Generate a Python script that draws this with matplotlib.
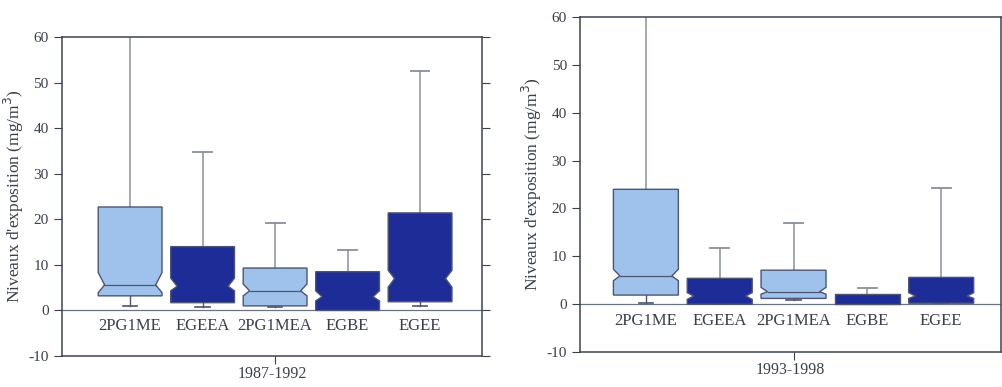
import numpy as np
import matplotlib.pyplot as plt
from matplotlib.patches import Polygon

# categories and colour group (light = propylene glycol ethers, dark = ethylene glycol ethers)
categories = ['2PG1ME', 'EGEEA', '2PG1MEA', 'EGBE', 'EGEE']
is_light = [True, False, True, False, False]

# 1987-1992 box statistics (mg/m3)
p1_low = [0.9, 0.8, 0.7, 0.0, 1.0]
p1_q1 = [3.2, 1.7, 1.0, 0.0, 1.9]
p1_notch_lo = [3.9, 4.3, 3.2, 2.1, 5.1]
p1_med = [5.6, 5.3, 4.3, 3.0, 7.0]
p1_notch_hi = [8.3, 7.1, 5.8, 4.3, 8.8]
p1_q3 = [22.7, 14.0, 9.3, 8.5, 21.4]
p1_high = [62.0, 34.8, 19.1, 13.2, 52.5]

# 1993-1998 box statistics (mg/m3), EGBE shows no notch
p2_low = [0.2, 0.0, 0.8, 0.0, 0.2]
p2_q1 = [1.9, 0.0, 1.2, 0.0, 0.2]
p2_notch_lo = [4.9, 1.0, 2.1, 1.0, 1.2]
p2_med = [5.9, 1.7, 2.6, 1.0, 1.7]
p2_notch_hi = [7.3, 2.4, 3.5, 1.0, 2.4]
p2_q3 = [24.0, 5.4, 7.1, 2.1, 5.6]
p2_high = [62.0, 11.7, 17.0, 3.3, 24.3]

LIGHT = '#9fc2ec'
DARK = '#1e2c98'
EDGE = '#4d5570'
WHISK = '#8a8f99'
TXT = '#3a3f4a'

plt.rcParams['font.family'] = ['Liberation Serif', 'DejaVu Serif']
plt.rcParams['axes.unicode_minus'] = False

fig = plt.figure(figsize=(10.03, 3.87), dpi=100)
ax1 = fig.add_axes([0.0618, 0.0801, 0.4188, 0.8243])
ax2 = fig.add_axes([0.5783, 0.0904, 0.4197, 0.8656])


def draw_panel(ax, low, q1, nlo, med, nhi, q3, high, xlim, period, right_ticks):
    w = 0.44
    for i, name in enumerate(categories):
        x = i + 1
        nw = w * 0.8
        fc = LIGHT if is_light[i] else DARK
        # whiskers
        ax.plot([x, x], [q3[i], high[i]], color=WHISK, lw=1.1, zorder=1)
        ax.plot([x - 0.13, x + 0.13], [high[i], high[i]], color=WHISK, lw=1.3, zorder=1)
        ax.plot([x, x], [low[i], q1[i]], color=EDGE, lw=1.0, zorder=1)
        ax.plot([x - 0.1, x + 0.1], [low[i], low[i]], color=EDGE, lw=1.2, zorder=1)
        if nlo[i] < nhi[i]:
            verts = [(x - w, q1[i]), (x - w, nlo[i]), (x - nw, med[i]), (x - w, nhi[i]),
                     (x - w, q3[i]), (x + w, q3[i]), (x + w, nhi[i]), (x + nw, med[i]),
                     (x + w, nlo[i]), (x + w, q1[i])]
        else:
            verts = [(x - w, q1[i]), (x - w, q3[i]), (x + w, q3[i]), (x + w, q1[i])]
        ax.add_patch(Polygon(verts, closed=True, facecolor=fc, edgecolor=EDGE,
                             lw=1.0, zorder=2))
        if is_light[i]:
            ax.plot([x - nw, x + nw], [med[i], med[i]], color=EDGE, lw=0.9, zorder=3)
        ax.text(x, -3.5, name, ha='center', va='center', fontsize=12, color=TXT)
    ax.axhline(0, color='#6b7280', lw=0.9, zorder=0)
    ax.set_xlim(*xlim)
    ax.set_ylim(-10, 60)
    ax.set_yticks(np.arange(-10, 61, 10))
    ax.set_xticks([3])
    ax.set_xticklabels([''])
    ax.set_xlabel(period, fontsize=11.5, color=TXT, labelpad=0)
    ax.set_ylabel("Niveaux d'exposition (mg/m$^3$)", fontsize=12.5, color=TXT, labelpad=2)
    ax.tick_params(axis='y', labelsize=11, colors=TXT, length=6, width=0.8,
                   right=right_ticks, direction='out')
    ax.tick_params(axis='x', length=6, width=0.8, colors=TXT, pad=1)
    for s in ax.spines.values():
        s.set_color('#3d4250')
        s.set_linewidth(1.1)


draw_panel(ax1, p1_low, p1_q1, p1_notch_lo, p1_med, p1_notch_hi, p1_q3, p1_high,
           (0.06, 5.855), '1987-1992', True)
draw_panel(ax2, p2_low, p2_q1, p2_notch_lo, p2_med, p2_notch_hi, p2_q3, p2_high,
           (0.108, 5.81), '1993-1998', False)

fig.savefig('out.png', dpi=100)
